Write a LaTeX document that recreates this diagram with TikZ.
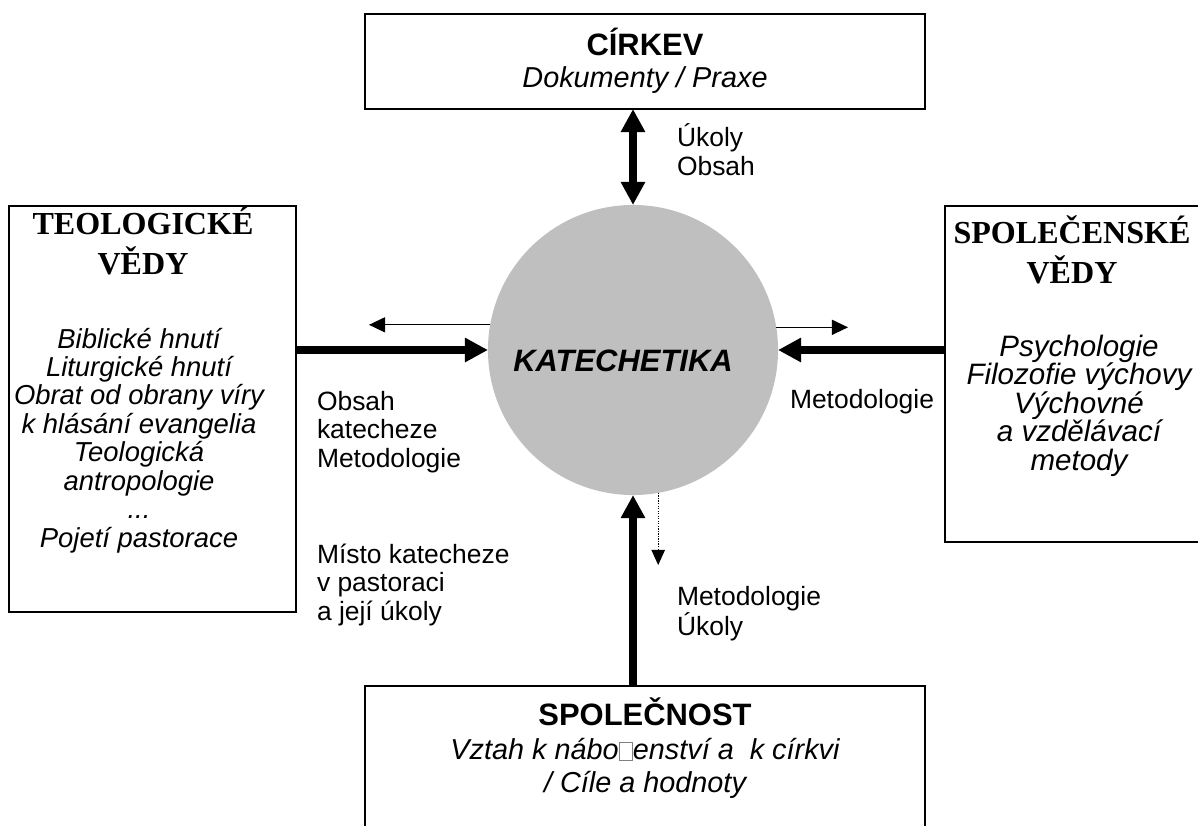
\documentclass[tikz,border=0pt]{standalone}
\usepackage{fontspec}
\setmainfont{Liberation Sans}
\newfontfamily\timesfont{Liberation Serif}
\usepackage{tikz}
\usetikzlibrary{arrows.meta}
\definecolor{ccgray}{rgb}{0.75,0.75,0.75}
\tikzstyle{every node}=[inner sep=0pt,outer sep=0pt]
\newcommand{\missglyph}{{\color{gray}\setlength{\fboxsep}{0pt}\setlength{\fboxrule}{0.4pt}\fbox{\rule{0pt}{0.6em}\hspace{0.45em}}}}

\begin{document}
\begin{tikzpicture}[line join=miter,x=0.025cm,y=-0.025cm,
  box/.style={draw,line width=1.1pt},
  ahead/.style={anchor=base,font=\fontsize{22}{26}\selectfont\bfseries},
  shead/.style={anchor=base,align=center,font=\fontsize{22.8}{28.4}\selectfont\timesfont\bfseries},
  itext/.style={anchor=base,align=center,font=\fontsize{20.5}{22.8}\selectfont\itshape},
  lab/.style={anchor=base west,align=left,font=\fontsize{18.8}{20.2}\selectfont},
  bigarr/.style={-{Triangle[length=16.4pt,width=16.4pt]},line width=5pt},
  thinarr/.style={-{Triangle[length=11.4pt,width=10.7pt]},line width=0.85pt},
  dotarr/.style={-{Triangle[length=10.7pt,width=9.5pt]},line width=0.85pt,dash pattern=on 0.9pt off 0.9pt}]

\useasboundingbox (0,0) rectangle (1198,825);
\clip (0,0) rectangle (1198,825);

% the four boxes and the circle
\node[box,minimum width=14cm,minimum height=2.375cm] (cirkev) at (645,61.5) {};
\node[box,minimum width=7.175cm,minimum height=10.15cm] (teol) at (152.5,409) {};
\node[box,minimum width=6.625cm,minimum height=8.4cm] (spolv) at (1077.5,374) {};
\node[box,minimum width=14cm,minimum height=3.85cm] (spol) at (645,763) {};
\node[circle,fill=ccgray,minimum size=7.25cm] (kat) at (633,350) {};

% texts (multi-line nodes sit on the baseline of their last line)
\node[ahead] (cirkev-h) at (645,55) {CÍRKEV};
\node[itext] (cirkev-t) at (645,87) {Dokumenty / Praxe};
\node[shead] (teol-h) at (143,274) {TEOLOGICKÉ\\VĚDY};
\node[itext,font=\fontsize{19.5}{20.2}\selectfont\itshape] (teol-t) at (139,547)
  {Biblické hnutí\\Liturgické hnutí\\Obrat od obrany víry\\k hlásání evangelia\\Teologická\\antropologie\\...\\Pojetí pastorace};
\node[shead] (spolv-h) at (1072,283) {SPOLEČENSKÉ\\VĚDY};
\node[itext,font=\fontsize{21}{20.2}\selectfont\itshape] (spolv-t) at (1079,470)
  {Psychologie\\Filozofie výchovy\\Výchovné\\a vzdělávací\\metody};
\node[anchor=base,font=\fontsize{22}{26}\selectfont\bfseries\itshape] (kat-t) at (623,371) {KATECHETIKA};
\node[ahead] (spol-h) at (645,725) {SPOLEČNOST};
\node[itext] (spol-t) at (645,792) {Vztah k nábo\missglyph enství a~\ k církvi\\/ Cíle a hodnoty};

% labels
\node[lab] (l-top) at (677,175) {Úkoly\\Obsah};
\node[lab] (l-left) at (317,467) {Obsah\\katecheze\\Metodologie};
\node[lab] (l-place) at (317,620) {Místo katecheze\\v pastoraci\\a její úkoly};
\node[lab] (l-right) at (790,408) {Metodologie};
\node[lab] (l-bottom) at (677,635) {Metodologie\\Úkoly};

% arrows
\coordinate (lt) at (369,0);
\coordinate (rt) at (848,0);
\coordinate (dt) at (0,565);
\draw[{Triangle[length=16.4pt,width=16.4pt]}-{Triangle[length=16.4pt,width=16.4pt]},line width=5pt] (cirkev.south -| kat) -- (kat);
\draw[bigarr] (teol.east |- kat.center) -- (kat);
\draw[bigarr] (spolv.west |- kat.center) -- (kat);
\draw[bigarr] (spol.north -| kat) -- (kat);
\draw[thinarr] (kat.170.5) -- (kat.170.5 -| lt);
\draw[thinarr] (kat.9.5) -- (kat.9.5 -| rt);
\draw[dotarr] (kat.-80.5) -- (kat.-80.5 |- dt);
\end{tikzpicture}
\end{document}
